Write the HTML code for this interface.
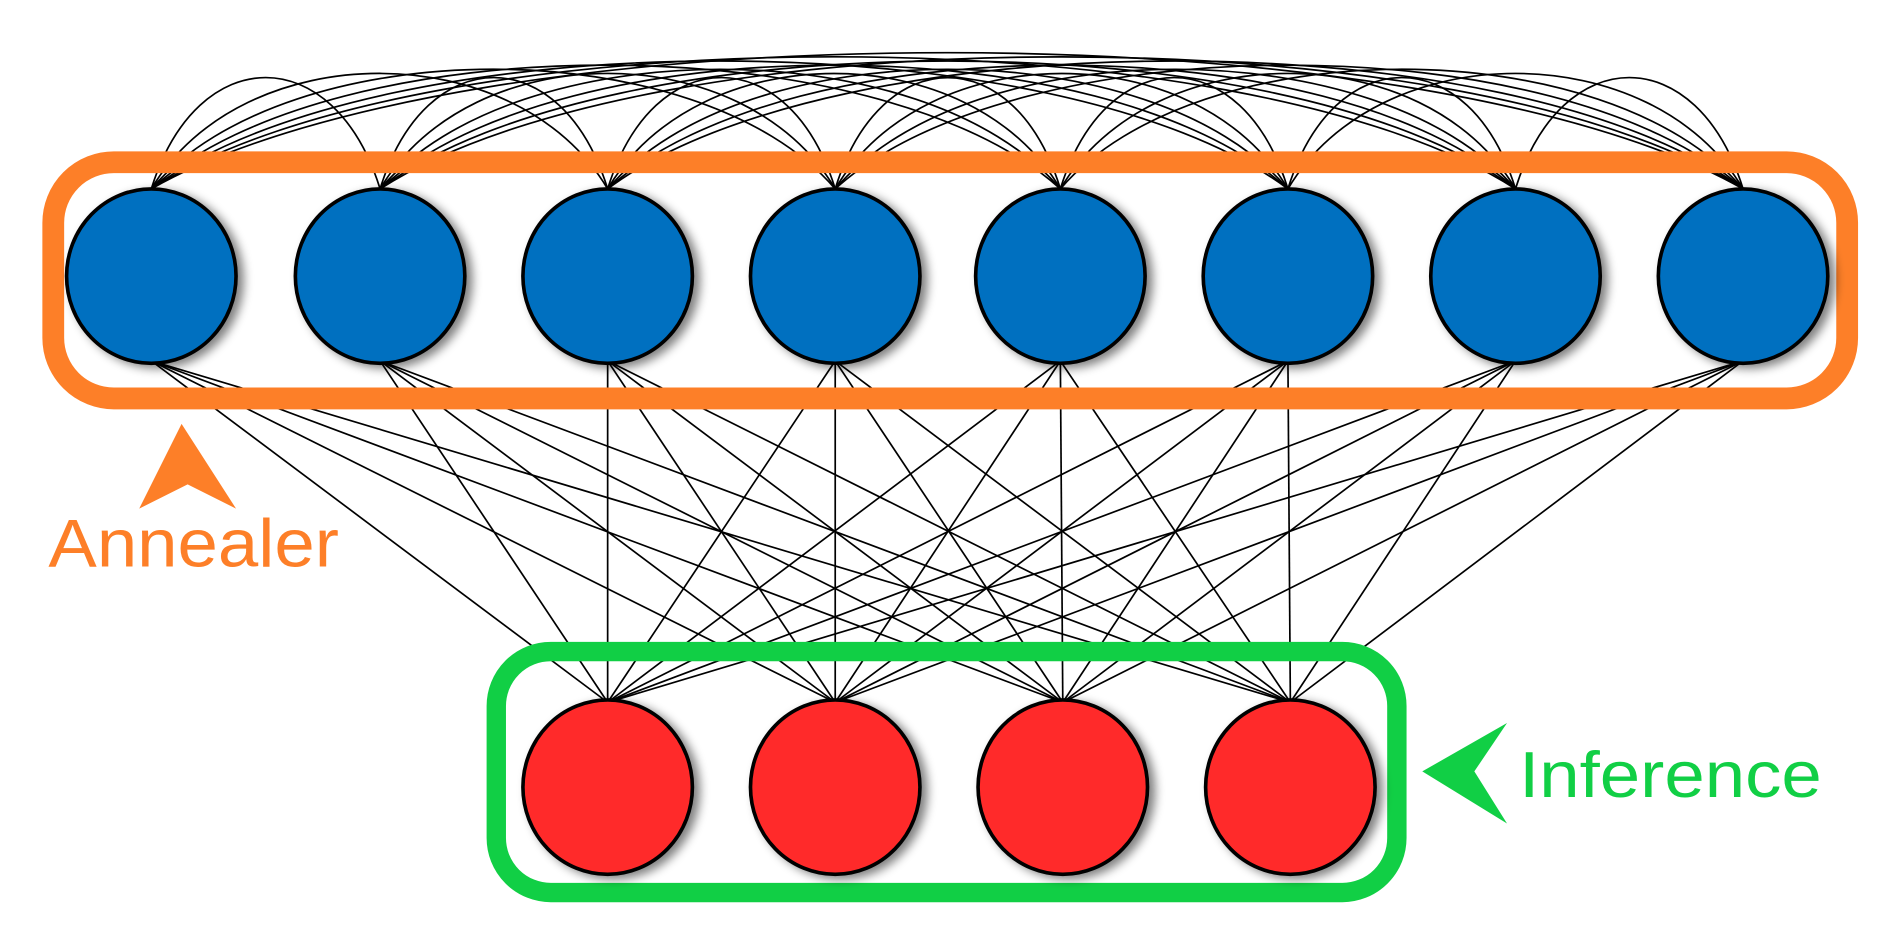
<!DOCTYPE html>
<html><head><meta charset="utf-8"><style>
html,body{margin:0;padding:0;background:#fff;overflow:hidden}
svg{display:block}
</style></head><body>
<svg id="s" width="1898" height="947" viewBox="0 0 1568 782" preserveAspectRatio="none" xmlns="http://www.w3.org/2000/svg">
<defs>
<filter id="sh" x="-20%" y="-20%" width="150%" height="150%"><feGaussianBlur in="SourceAlpha" stdDeviation="4"/><feOffset dx="5" dy="3"/><feComponentTransfer><feFuncA type="linear" slope="0.5"/></feComponentTransfer><feMerge><feMergeNode/><feMergeNode in="SourceGraphic"/></feMerge></filter>
</defs>
<g id="lines" stroke="#000" stroke-width="1.4" fill="none"></g>
<rect x="44" y="134" width="1482" height="195" rx="50" fill="none" stroke="#fd7f28" stroke-width="18"/>
<rect x="410" y="538" width="744" height="199" rx="45" fill="none" stroke="#11cf45" stroke-width="16"/>
<g id="nodes" stroke="#000" stroke-width="3"></g>
<polygon points="150,350 195,420 155,400 115,420" fill="#fd7f28"/>
<text x="40" y="468" font-family="Liberation Sans, sans-serif" font-size="56" fill="#fd7f28" textLength="240" lengthAdjust="spacingAndGlyphs">Annealer</text>
<polygon points="1175,637 1245,597 1218,637 1245,680" fill="#11cf45"/>
<text x="1255" y="658" font-family="Liberation Sans, sans-serif" font-size="54" fill="#11cf45" textLength="250" lengthAdjust="spacingAndGlyphs">Inference</text>
</svg>
<script>
var NS="http://www.w3.org/2000/svg";
var bx=[125,314,502,690,876,1064,1252,1440], rx=[502,690,878,1066];
var L=document.getElementById('lines'), N=document.getElementById('nodes');
function add(p,tag,a){var e=document.createElementNS(NS,tag);for(var k in a)e.setAttribute(k,a[k]);p.appendChild(e);}
for(var i=0;i<8;i++)for(var j=i+1;j<8;j++){
 var a=bx[i],b=bx[j],d=b-a,h=118+32*(d/1315);
 add(L,'path',{d:'M'+a+' 156 C'+(a+d*0.2)+' '+(156-h)+' '+(b-d*0.2)+' '+(156-h)+' '+b+' 156'});
}
for(var i=0;i<8;i++)for(var j=0;j<4;j++){
 add(L,'line',{x1:bx[i],y1:298,x2:rx[j],y2:580});
}
bx.forEach(function(x){add(N,'ellipse',{cx:x,cy:228,rx:70,ry:72,fill:'#006fc0',filter:'url(#sh)'});});
rx.forEach(function(x){add(N,'ellipse',{cx:x,cy:650,rx:70,ry:72,fill:'#ff2a2a',filter:'url(#sh)'});});
</script>
</body></html>
